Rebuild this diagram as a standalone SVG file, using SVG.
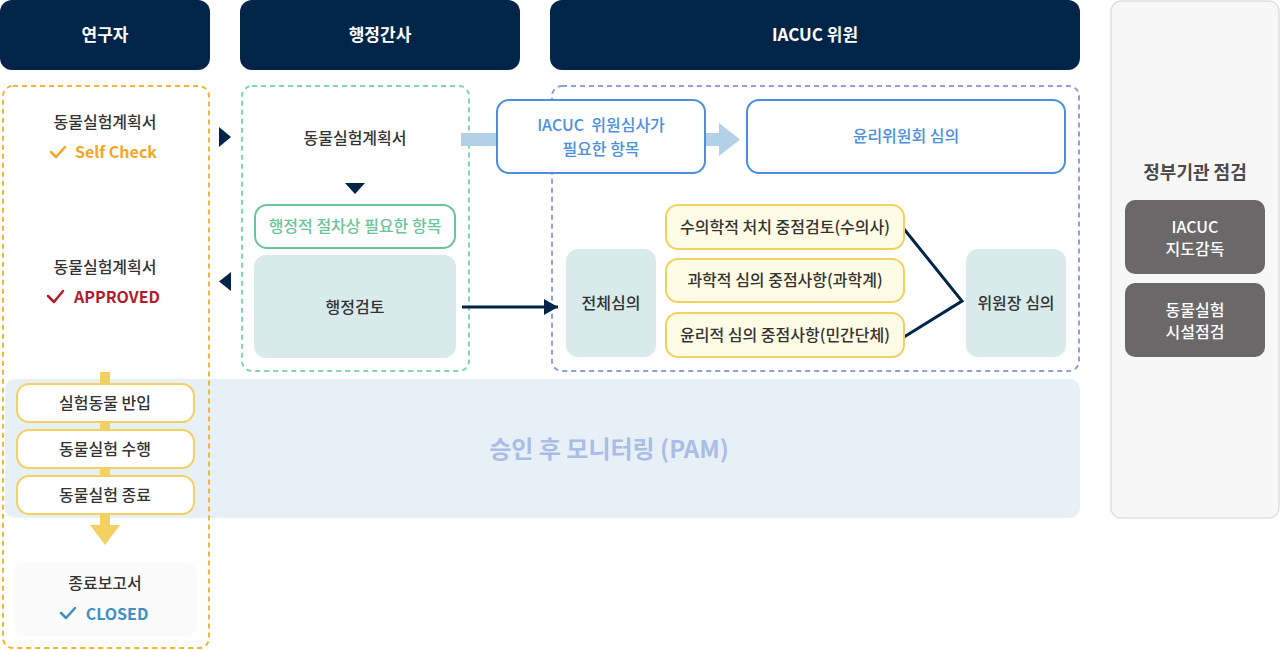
<svg xmlns="http://www.w3.org/2000/svg" width="1280" height="650" viewBox="0 0 1280 650">
<defs>
<style>
text{font-family:"Noto Sans CJK KR","Noto Sans",sans-serif;text-anchor:middle}
.hd{fill:#012549}
.hdt{fill:#fff;font-size:17px;font-weight:700}
.t{fill:#333;font-size:16px;font-weight:500}
.teal{fill:#d8eaeb}
.yel{fill:#fffce6;stroke:#f3d160;stroke-width:2}
.wy{fill:#fff;stroke:#f3d160;stroke-width:2}
.blu{fill:#fff;stroke:#4a8fe0;stroke-width:2}
.bt{fill:#4a8fe0;font-size:16px;font-weight:500}
.gray{fill:#6b6869}
.wt{fill:#fff;font-size:16px;font-weight:500}
.nav{fill:#012549}
.ck{fill:none;stroke-width:2.5;stroke-linecap:round;stroke-linejoin:round}
</style>
<marker id="ah" markerWidth="14" markerHeight="16" refX="14" refY="8" orient="auto" markerUnits="userSpaceOnUse">
<path d="M0,0 L14,8 L0,16 Z" fill="#012549"/>
</marker>
</defs>
<g id="headers">
<g id="h-researcher"><rect class="hd" x="0" y="0" width="210" height="70" rx="12"/><text class="hdt" x="105" y="41">연구자</text></g>
<g id="h-admin"><rect class="hd" x="240" y="0" width="280" height="70" rx="12"/><text class="hdt" x="380" y="41">행정간사</text></g>
<g id="h-iacuc"><rect class="hd" x="550" y="0" width="530" height="70" rx="12"/><text class="hdt" x="815" y="41">IACUC 위원</text></g>
</g>
<g id="pam-band"><rect x="5" y="379" width="1075" height="139" rx="10" fill="#e8f0f7"/><text x="609" y="458" font-size="24" font-weight="700" fill="#a9bde6">승인 후 모니터링 (PAM)</text></g>
<g id="gov">
<rect x="1111" y="1" width="168" height="517" rx="10" fill="#f7f7f7" stroke="#e0e0e0" stroke-width="1.5"/>
<text x="1195" y="179" font-size="18" font-weight="700" fill="#4a4a4a">정부기관 점검</text>
<g id="gov-1"><rect class="gray" x="1125" y="200" width="140" height="74" rx="10"/><text class="wt" x="1195" y="233">IACUC</text><text class="wt" x="1195" y="255">지도감독</text></g>
<g id="gov-2"><rect class="gray" x="1125" y="283" width="140" height="74" rx="10"/><text class="wt" x="1195" y="316">동물실험</text><text class="wt" x="1195" y="338">시설점검</text></g>
</g>
<g id="zones" fill="none" stroke-width="2" stroke-dasharray="5 4">
<rect x="3" y="86" width="206" height="562" rx="10" stroke="#f6b632"/>
<rect x="242" y="86" width="227" height="285" rx="10" stroke="#80d6b4"/>
<rect x="552" y="86" width="527" height="285" rx="10" stroke="#8fa0d8"/>
</g>
<g id="connectors">
<rect x="100" y="372" width="10" height="154" fill="#f3d160"/>
<path d="M90,525 L120,525 L105,545 Z" fill="#f3d160"/>
<path d="M219,127 L231,137 L219,147 Z" class="nav"/>
<path d="M231,272 L219,281.5 L231,291 Z" class="nav"/>
<path d="M345,183 L365,183 L355,194 Z" class="nav"/>
<rect x="461" y="133" width="37" height="13" fill="#b2d0e8"/>
<path d="M705,133 L719,133 L719,123 L740,139.5 L719,156 L719,146 L705,146 Z" fill="#b2d0e8"/>
<line x1="462" y1="307" x2="558" y2="307" stroke="#012549" stroke-width="3" marker-end="url(#ah)"/>
<polyline points="904,229 962,301 904,337" fill="none" stroke="#012549" stroke-width="3"/>
</g>
<g id="n-plan1"><text class="t" x="105" y="128">동물실험계획서</text>
<polyline class="ck" points="51,152 56,157 65,147" stroke="#f4a623"/>
<text x="116" y="158" font-size="16" font-weight="700" fill="#f4a623">Self Check</text></g>
<g id="n-plan2"><text class="t" x="105" y="273">동물실험계획서</text>
<polyline class="ck" points="48,296 54,302 63,291" stroke="#b31b2b"/>
<text x="117" y="303" font-size="16" font-weight="700" fill="#b31b2b">APPROVED</text></g>
<g id="n-pam1"><rect class="wy" x="17" y="384" width="177" height="38" rx="12"/><text class="t" x="105" y="409" font-size="15">실험동물 반입</text></g>
<g id="n-pam2"><rect class="wy" x="17" y="430" width="177" height="38" rx="12"/><text class="t" x="105" y="455" font-size="15">동물실험 수행</text></g>
<g id="n-pam3"><rect class="wy" x="17" y="476" width="177" height="38" rx="12"/><text class="t" x="105" y="501" font-size="15">동물실험 종료</text></g>
<g id="n-closed"><rect x="14" y="563" width="183" height="73" rx="10" fill="#fbfbfb"/>
<text class="t" x="105" y="589">종료보고서</text>
<polyline class="ck" points="61,613 66,618 75,608" stroke="#3d8fc6"/>
<text x="117" y="620" font-size="16" font-weight="700" fill="#3d8fc6">CLOSED</text></g>
<g id="n-plan-admin"><text class="t" x="355" y="144">동물실험계획서</text></g>
<g id="n-admin-items"><rect x="255" y="205" width="200" height="43" rx="12" fill="#fff" stroke="#6cc49b" stroke-width="2"/><text x="355" y="232" font-size="16" font-weight="500" fill="#6cc49b">행정적 절차상 필요한 항목</text></g>
<g id="n-admin-review"><rect class="teal" x="254" y="255" width="202" height="103" rx="12"/><text class="t" x="355" y="313">행정검토</text></g>
<g id="n-iacuc-items"><rect class="blu" x="497" y="100" width="208" height="73" rx="12"/><text class="bt" x="601" y="131" xml:space="preserve">IACUC  위원심사가</text><text class="bt" x="601" y="155">필요한 항목</text></g>
<g id="n-ethics"><rect class="blu" x="747" y="100" width="318" height="73" rx="12"/><text class="bt" x="906" y="142">윤리위원회 심의</text></g>
<g id="n-full"><rect class="teal" x="566" y="249" width="90" height="108" rx="12"/><text class="t" x="611" y="309">전체심의</text></g>
<g id="n-y1"><rect class="yel" x="666" y="205" width="238" height="44" rx="12"/><text class="t" x="785" y="233">수의학적 처치 중점검토(수의사)</text></g>
<g id="n-y2"><rect class="yel" x="666" y="259" width="238" height="43" rx="12"/><text class="t" x="785" y="286">과학적 심의 중점사항(과학계)</text></g>
<g id="n-y3"><rect class="yel" x="666" y="313" width="238" height="44" rx="12"/><text class="t" x="785" y="341">윤리적 심의 중점사항(민간단체)</text></g>
<g id="n-chair"><rect class="teal" x="966" y="249" width="100" height="108" rx="12"/><text class="t" x="1016" y="309">위원장 심의</text></g>
</svg>
